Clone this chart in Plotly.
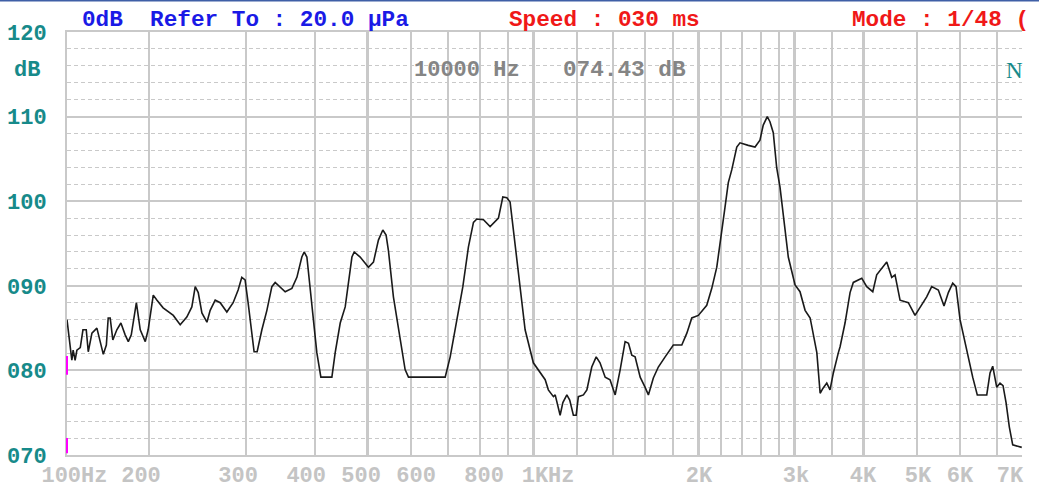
import math
import plotly.graph_objects as go

# ---------------- data ----------------
freq_hz = [
    141.5, 143.5, 144.4, 145.2, 146.4, 147.5, 149.6, 151.3, 153.4, 154.7,
    157.1, 160.4, 162.7, 164.8, 166.9, 168.2, 169.6, 171.5, 174.4, 177.4,
    180.6, 183.0, 185.3, 189.3, 192.4, 196.5, 198.9, 203.2, 206.4, 211.8,
    221.0, 227.5, 233.9, 238.9, 242.3, 245.4, 249.2, 254.5, 258.0, 263.5,
    269.1, 276.7, 284.1, 290.1, 294.6, 298.7, 302.5, 307.2, 310.2, 314.2,
    320.5, 327.3, 334.2, 338.9, 346.1, 353.4, 363.5, 371.2, 379.0, 382.7,
    387.1, 392.5, 398.0, 403.6, 410.5, 429.9, 435.9, 445.2, 454.6, 461.0,
    467.6, 472.1, 484.1, 501.2, 511.8, 522.6, 532.3, 539.7, 544.9, 556.5,
    572.3, 584.5, 592.8, 691.5, 706.2, 726.3, 744.7, 762.4, 778.6, 789.7,
    812.0, 835.0, 864.6, 880.7, 895.6, 908.0, 927.3, 946.9, 967.0, 1001,
    1016, 1052, 1066, 1089, 1097, 1120, 1133, 1152, 1166, 1184,
    1198, 1209, 1235, 1253, 1279, 1303, 1324, 1353, 1381, 1411,
    1441, 1471, 1492, 1513, 1534, 1567, 1600, 1622, 1656, 1691,
    1740, 1801, 1866, 1906, 1946, 2000, 2072, 2116, 2161, 2207,
    2237, 2268, 2301, 2350, 2382, 2466, 2537, 2590, 2626, 2671,
    2701, 2739, 2778, 2817, 2856, 2917, 3001, 3064, 3130, 3197,
    3288, 3334, 3375, 3428, 3475, 3524, 3599, 3625, 3701, 3780,
    3832, 3970, 4054, 4158, 4227, 4317, 4409, 4502, 4565, 4662,
    4827, 4964, 5105, 5213, 5324, 5474, 5606, 5709, 5815, 5896,
    5996, 6166, 6323, 6446, 6707, 6800, 6877, 6994, 7091, 7181,
    7273, 7374, 7479, 7768,
]
level_db = [
    86.0, 82.4, 81.2, 82.4, 81.2, 82.4, 82.7, 84.8, 84.8, 82.2,
    84.4, 85.0, 83.2, 81.9, 83.0, 86.2, 86.2, 83.6, 84.8, 85.6,
    84.2, 83.4, 84.2, 88.0, 84.8, 83.4, 84.8, 88.9, 88.3, 87.4,
    86.5, 85.4, 86.3, 87.5, 89.9, 89.2, 86.8, 85.7, 87.1, 88.3,
    88.0, 86.9, 88.0, 89.5, 91.0, 90.7, 88.0, 84.4, 82.2, 82.2,
    84.8, 87.1, 89.9, 90.4, 89.9, 89.3, 89.7, 91.0, 93.4, 94.0,
    93.4, 89.5, 86.0, 82.1, 79.2, 79.2, 82.1, 85.6, 87.5, 90.7,
    93.4, 94.0, 93.4, 92.2, 92.8, 95.4, 96.6, 96.0, 94.2, 88.7,
    83.6, 80.1, 79.2, 79.2, 81.6, 86.0, 89.9, 94.6, 97.5, 97.9,
    97.8, 97.0, 98.0, 100.5, 100.4, 99.9, 94.6, 89.5, 84.8, 80.9,
    80.3, 78.9, 77.7, 76.9, 77.1, 74.7, 76.2, 77.1, 76.5, 74.7,
    74.7, 76.9, 77.1, 77.7, 80.4, 81.6, 80.9, 79.2, 78.9, 77.1,
    80.1, 83.4, 83.2, 81.8, 81.6, 79.2, 78.0, 77.1, 79.1, 80.4,
    81.6, 83.0, 83.0, 84.4, 86.2, 86.5, 87.7, 89.7, 92.2, 96.2,
    99.3, 102.2, 103.7, 106.4, 106.9, 106.6, 106.4, 107.2, 109.0, 110.0,
    109.4, 108.1, 104.0, 101.7, 98.6, 93.4, 90.1, 89.3, 87.1, 86.2,
    82.1, 77.3, 77.9, 78.5, 77.7, 79.7, 82.1, 82.8, 85.6, 89.2,
    90.4, 90.9, 89.9, 89.3, 91.3, 92.1, 92.8, 91.0, 91.3, 88.3,
    88.0, 86.5, 87.7, 88.7, 89.9, 89.5, 87.6, 89.2, 90.3, 89.9,
    86.0, 82.4, 79.2, 77.1, 77.1, 79.7, 80.5, 78.0, 78.5, 78.2,
    76.2, 73.3, 71.2, 70.9,
]

freq_range = [141.5, 7776]
db_range = [70, 120]

grid_freqs = [200, 300, 400, 600, 700, 800, 900, 1200, 1400, 1600, 1800,
              2200, 2400, 2600, 2800, 3500, 5000, 6000, 7000]
major_grid_freqs = [500, 1000, 2000, 3000, 4000]

label_freqs = [146, 193, 290, 386, 486, 612, 814, 1065, 2006, 3013, 3991, 5027, 5996, 7395]
label_texts = ["100Hz", "200", "300", "400", "500", "600", "800", "1KHz",
               "2K", "3k", "4K", "5K", "6K", "7K"]

y_ticks = [70, 80, 90, 100, 110, 120]
y_tick_texts = ["070", "080", "090", "100", "110", "120"]

marker_spans = [(79.5, 81.7), (70.2, 72.0)]

# ---------------- styles ----------------
GRID = "#c9c9c9"
TEAL = "#178a8a"
MONO = "Liberation Mono"
xr = [math.log10(freq_range[0]), math.log10(freq_range[1])]

fig = go.Figure()
fig.add_trace(go.Scatter(x=freq_hz, y=level_db, mode="lines",
                         line=dict(color="#1a1a1a", width=1.6),
                         showlegend=False, hoverinfo="x+y"))
fig.add_trace(go.Scatter(x=[], y=[], xaxis="x2", showlegend=False))
fig.add_trace(go.Scatter(x=[], y=[], xaxis="x3", showlegend=False))

fig.update_layout(
    width=1039, height=489, autosize=False,
    margin=dict(l=67, r=17, t=32, b=34),
    paper_bgcolor="white", plot_bgcolor="white",
    xaxis=dict(type="log", range=xr, tickvals=grid_freqs, showticklabels=False,
               showgrid=True, gridcolor=GRID, gridwidth=1.5, ticks="",
               showline=True, linecolor=GRID, linewidth=2, mirror=True,
               zeroline=False, automargin=False),
    xaxis3=dict(type="log", range=xr, overlaying="x", anchor="y",
                tickvals=major_grid_freqs, showticklabels=False, ticks="",
                showgrid=True, gridcolor=GRID, gridwidth=3, zeroline=False,
                automargin=False),
    xaxis2=dict(type="log", range=xr, overlaying="x", anchor="y", side="bottom",
                tickvals=label_freqs, ticktext=label_texts, showgrid=False,
                ticks="", zeroline=False, ticklabelstandoff=4, automargin=False,
                tickfont=dict(family=MONO, size=22, color="#c4c4c4", weight="bold")),
    yaxis=dict(range=db_range, tickvals=y_ticks, ticktext=y_tick_texts,
               showgrid=True, gridcolor=GRID, gridwidth=1.5, ticks="",
               showline=True, linecolor=GRID, linewidth=2, zeroline=False,
               ticklabelstandoff=14, automargin=False,
               tickfont=dict(family=MONO, size=22, color=TEAL, weight="bold"),
               minor=dict(dtick=2, showgrid=True, gridcolor=GRID, gridwidth=1,
                          griddash="4px,3px")),
)

for y0, y1 in marker_spans:
    fig.add_shape(type="line", xref="paper", yref="y", x0=0, x1=0, y0=y0, y1=y1,
                  line=dict(color="#ff00ff", width=2))

# window border at top
fig.add_shape(type="line", xref="paper", yref="paper", x0=-0.1, x1=1.1,
              y0=1.0745, y1=1.0745, line=dict(color="#3f5fa6", width=2))

def note(text, x, y, color, size=22.7, family=MONO, weight="bold"):
    fig.add_annotation(text=text, xref="paper", yref="paper", x=x, y=y,
                       xanchor="left", yanchor="middle", showarrow=False,
                       font=dict(family=family, size=size, color=color, weight=weight))

note("0dB\u00a0\u00a0Refer\u00a0To\u00a0:\u00a020.0\u00a0\u03bcPa", 0.0136, 1.029, "#1a1ae6")
note("Speed\u00a0:\u00a0030\u00a0ms", 0.4607, 1.029, "#f01818")
note("Mode\u00a0:\u00a01/48\u00a0(", 0.8199, 1.029, "#f01818")
note("dB", -0.0576, 0.908, TEAL, size=22)
note("10000\u00a0Hz", 0.3613, 0.909, "#858585", size=22)
note("074.43\u00a0dB", 0.5173, 0.909, "#858585", size=22.7)
note("N", 0.9815, 0.909, TEAL, size=23, family="Liberation Serif", weight="normal")

fig.write_html("out.html", config={"displayModeBar": False},
               post_script="document.body.style.margin='0';document.body.style.overflow='hidden';")
